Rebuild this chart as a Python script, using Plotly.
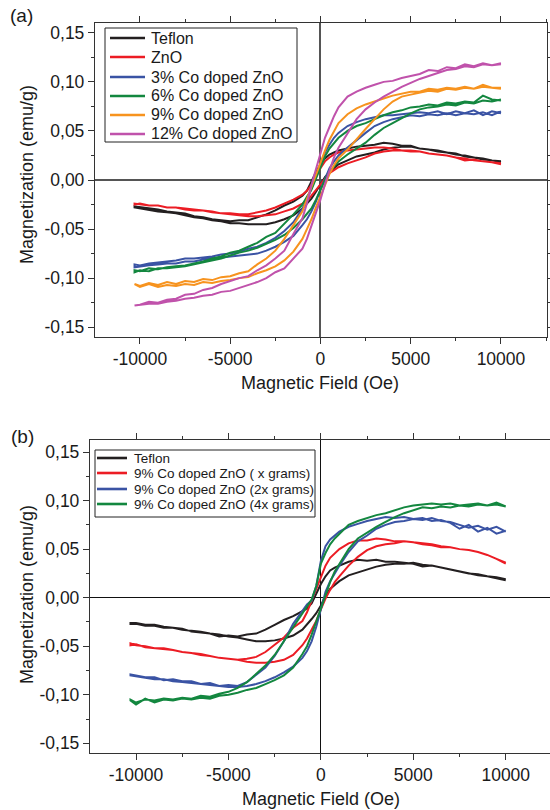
import plotly.graph_objects as go

# ---------------- data ----------------
# field grid: descending branch (+H -> -H) and ascending branch (-H -> +H)
H_DOWN = [10000, 9500, 9000, 8500, 8000, 7500, 7000, 6500, 6000, 5500, 5000, 4500, 4000, 3500, 3000, 2500, 2000, 1500,
          1000, 750, 500, 250, 0, -250, -500, -750, -1000,
          -1500, -2000, -2500, -3000, -3500, -4000, -4500, -5000, -5500, -6000, -6500, -7000, -7500, -8000, -8500, -9000, -9500, -10000,
          -10300]
H_UP = [-10300,
        -10000, -9500, -9000, -8500, -8000, -7500, -7000, -6500, -6000, -5500, -5000, -4500, -4000, -3500, -3000, -2500, -2000, -1500,
        -1000, -750, -500, -250, 0, 250, 500, 750, 1000,
        1500, 2000, 2500, 3000, 3500, 4000, 4500, 5000, 5500, 6000, 6500, 7000, 7500, 8000, 8500, 9000, 9500, 10000]

# ---- panel (a) ----
A_NAMES = ["Teflon", "ZnO", "3% Co doped ZnO", "6% Co doped ZnO", "9% Co doped ZnO", "12% Co doped ZnO"]

teflon_a_down = [0.019,0.020,0.022,0.023,0.024,0.027,0.028,0.029,0.031,0.032,0.035,0.035,0.037,0.038,0.036,0.035,0.034,0.032,
                 0.030,0.028,0.026,0.022,0.016,0.008,-0.002,-0.011,-0.016,
                 -0.022,-0.026,-0.031,-0.035,-0.038,-0.041,-0.041,-0.042,-0.041,-0.040,-0.038,-0.037,-0.034,-0.033,-0.032,-0.030,-0.029,-0.028,
                 -0.027]
teflon_a_up = [-0.028,
               -0.029,-0.030,-0.032,-0.033,-0.034,-0.036,-0.038,-0.039,-0.041,-0.042,-0.044,-0.044,-0.045,-0.045,-0.045,-0.043,-0.040,-0.036,
               -0.029,-0.024,-0.019,-0.012,-0.005,0.003,0.008,0.012,0.016,
               0.020,0.024,0.026,0.028,0.031,0.033,0.034,0.034,0.032,0.031,0.030,0.028,0.026,0.025,0.023,0.021,0.020,0.018]

zno_down = [0.017,0.018,0.019,0.021,0.020,0.023,0.025,0.026,0.027,0.029,0.030,0.030,0.032,0.033,0.033,0.032,0.031,0.030,
            0.028,0.026,0.023,0.019,0.012,0.004,-0.005,-0.011,-0.015,
            -0.020,-0.024,-0.028,-0.031,-0.033,-0.035,-0.035,-0.034,-0.034,-0.032,-0.031,-0.030,-0.029,-0.028,-0.028,-0.026,-0.026,-0.025,
            -0.024]
zno_up = [-0.025,
          -0.024,-0.026,-0.026,-0.028,-0.028,-0.030,-0.031,-0.031,-0.033,-0.034,-0.035,-0.036,-0.037,-0.037,-0.036,-0.035,-0.032,-0.029,
          -0.024,-0.021,-0.016,-0.010,-0.004,0.002,0.007,0.010,0.013,
          0.017,0.020,0.023,0.027,0.029,0.030,0.030,0.029,0.029,0.027,0.026,0.025,0.023,0.022,0.020,0.019,0.018,0.016]

co3_down = [0.068,0.070,0.066,0.071,0.068,0.070,0.067,0.070,0.068,0.069,0.068,0.067,0.066,0.066,0.064,0.062,0.059,0.055,
            0.048,0.043,0.036,0.028,0.016,0.004,-0.010,-0.021,-0.029,
            -0.043,-0.052,-0.059,-0.064,-0.068,-0.070,-0.073,-0.075,-0.076,-0.078,-0.079,-0.080,-0.080,-0.082,-0.083,-0.084,-0.085,-0.087,
            -0.086]
co3_up = [-0.089,
          -0.088,-0.087,-0.086,-0.085,-0.085,-0.083,-0.083,-0.081,-0.080,-0.079,-0.078,-0.077,-0.076,-0.075,-0.072,-0.068,-0.063,-0.057,
          -0.046,-0.040,-0.032,-0.022,-0.010,0.002,0.012,0.019,0.025,
          0.033,0.041,0.048,0.055,0.059,0.062,0.064,0.066,0.065,0.067,0.066,0.068,0.066,0.068,0.067,0.069,0.066,0.070]

co6_down = [0.081,0.082,0.086,0.079,0.080,0.078,0.079,0.076,0.077,0.075,0.074,0.071,0.069,0.066,0.062,0.058,0.055,0.050,
            0.043,0.038,0.032,0.024,0.013,0.003,-0.010,-0.017,-0.025,
            -0.035,-0.045,-0.054,-0.058,-0.064,-0.068,-0.072,-0.074,-0.078,-0.080,-0.083,-0.085,-0.087,-0.088,-0.089,-0.091,-0.090,-0.093,
            -0.092]
co6_up = [-0.094,
          -0.092,-0.093,-0.090,-0.090,-0.089,-0.088,-0.086,-0.084,-0.082,-0.080,-0.077,-0.074,-0.072,-0.069,-0.065,-0.061,-0.056,-0.049,
          -0.040,-0.034,-0.029,-0.020,-0.010,0.000,0.008,0.014,0.019,
          0.026,0.032,0.038,0.046,0.053,0.058,0.063,0.068,0.072,0.074,0.075,0.077,0.076,0.079,0.078,0.081,0.080,0.082]

co9_down = [0.093,0.094,0.097,0.093,0.095,0.093,0.094,0.092,0.093,0.090,0.090,0.088,0.086,0.083,0.080,0.077,0.073,0.067,
            0.058,0.050,0.041,0.030,0.018,0.005,-0.008,-0.020,-0.032,
            -0.046,-0.060,-0.072,-0.080,-0.086,-0.093,-0.095,-0.098,-0.099,-0.102,-0.101,-0.104,-0.103,-0.106,-0.104,-0.107,-0.105,-0.108,
            -0.106]
co9_up = [-0.106,
          -0.109,-0.106,-0.109,-0.107,-0.108,-0.106,-0.107,-0.104,-0.105,-0.103,-0.102,-0.100,-0.099,-0.095,-0.092,-0.088,-0.082,-0.073,
          -0.060,-0.050,-0.040,-0.028,-0.016,-0.004,0.006,0.015,0.022,
          0.031,0.042,0.052,0.062,0.072,0.080,0.085,0.087,0.089,0.091,0.090,0.093,0.092,0.094,0.093,0.095,0.094,0.094]

co12_down = [0.118,0.117,0.119,0.116,0.118,0.114,0.115,0.111,0.112,0.108,0.106,0.104,0.101,0.100,0.097,0.094,0.090,0.085,
             0.074,0.065,0.054,0.043,0.027,0.012,-0.005,-0.024,-0.039,
             -0.055,-0.072,-0.080,-0.087,-0.092,-0.098,-0.100,-0.103,-0.106,-0.110,-0.112,-0.116,-0.117,-0.121,-0.122,-0.125,-0.124,-0.127,
             -0.128]
co12_up = [-0.128,
           -0.127,-0.126,-0.126,-0.124,-0.123,-0.121,-0.120,-0.118,-0.117,-0.114,-0.113,-0.110,-0.107,-0.104,-0.100,-0.094,-0.090,-0.080,
           -0.070,-0.060,-0.047,-0.033,-0.020,-0.004,0.010,0.023,0.033,
           0.047,0.062,0.072,0.079,0.085,0.090,0.095,0.099,0.103,0.106,0.109,0.112,0.113,0.116,0.115,0.118,0.117,0.119]

# ---- panel (b) ----
B_NAMES = ["Teflon", "9% Co doped ZnO ( x grams)", "9% Co doped ZnO (2x grams)", "9% Co doped ZnO (4x grams)"]

teflon_b_down = [0.019,0.021,0.022,0.024,0.025,0.027,0.029,0.031,0.033,0.032,0.035,0.036,0.037,0.037,0.039,0.038,0.039,0.037,
                 0.033,0.031,0.028,0.022,0.014,0.004,-0.006,-0.011,-0.014,
                 -0.019,-0.023,-0.028,-0.033,-0.037,-0.038,-0.040,-0.039,-0.040,-0.037,-0.036,-0.035,-0.032,-0.031,-0.030,-0.028,-0.028,-0.026,
                 -0.026]
teflon_b_up = [-0.027,
               -0.027,-0.029,-0.029,-0.031,-0.031,-0.033,-0.034,-0.035,-0.037,-0.038,-0.040,-0.041,-0.043,-0.045,-0.045,-0.044,-0.042,-0.039,
               -0.033,-0.028,-0.022,-0.016,-0.008,0.002,0.009,0.013,0.017,
               0.023,0.026,0.029,0.032,0.034,0.035,0.035,0.036,0.034,0.033,0.031,0.029,0.027,0.025,0.023,0.022,0.020,0.018]

x1_down = [0.035,0.040,0.044,0.047,0.049,0.050,0.052,0.052,0.054,0.055,0.057,0.058,0.058,0.060,0.061,0.059,0.059,0.056,
           0.050,0.046,0.041,0.033,0.021,0.008,-0.004,-0.015,-0.024,
           -0.031,-0.041,-0.049,-0.056,-0.061,-0.063,-0.064,-0.063,-0.062,-0.060,-0.058,-0.057,-0.056,-0.054,-0.052,-0.052,-0.050,-0.049,
           -0.047]
x1_up = [-0.049,
         -0.048,-0.051,-0.052,-0.053,-0.054,-0.056,-0.057,-0.059,-0.060,-0.062,-0.063,-0.064,-0.066,-0.067,-0.067,-0.066,-0.064,-0.059,
         -0.049,-0.042,-0.033,-0.024,-0.012,-0.001,0.008,0.016,0.022,
         0.033,0.042,0.049,0.053,0.055,0.056,0.058,0.057,0.056,0.055,0.053,0.052,0.050,0.049,0.047,0.044,0.040,0.036]

x2_down = [0.069,0.066,0.072,0.068,0.075,0.071,0.077,0.080,0.079,0.082,0.081,0.083,0.082,0.083,0.081,0.079,0.076,0.073,
           0.068,0.064,0.060,0.053,0.038,0.012,-0.003,-0.007,-0.014,
           -0.027,-0.045,-0.060,-0.072,-0.080,-0.087,-0.091,-0.090,-0.091,-0.088,-0.089,-0.086,-0.086,-0.084,-0.085,-0.082,-0.082,-0.080,
           -0.079]
x2_up = [-0.080,
         -0.081,-0.082,-0.084,-0.084,-0.086,-0.087,-0.088,-0.089,-0.090,-0.091,-0.092,-0.092,-0.091,-0.089,-0.086,-0.082,-0.077,-0.071,
         -0.062,-0.055,-0.045,-0.030,-0.012,0.006,0.017,0.025,0.033,
         0.047,0.058,0.064,0.071,0.075,0.078,0.079,0.081,0.080,0.082,0.079,0.078,0.075,0.072,0.074,0.070,0.073,0.068]

x4_down = [0.094,0.096,0.095,0.097,0.096,0.095,0.097,0.096,0.097,0.096,0.095,0.093,0.090,0.087,0.085,0.082,0.079,0.075,
           0.066,0.061,0.055,0.046,0.035,0.012,-0.002,-0.009,-0.016,
           -0.030,-0.045,-0.059,-0.070,-0.079,-0.087,-0.093,-0.097,-0.099,-0.102,-0.101,-0.104,-0.103,-0.105,-0.104,-0.106,-0.105,-0.108,
           -0.105]
x4_up = [-0.106,
         -0.110,-0.104,-0.108,-0.105,-0.106,-0.104,-0.105,-0.103,-0.104,-0.101,-0.100,-0.098,-0.095,-0.093,-0.089,-0.085,-0.080,-0.072,
         -0.058,-0.050,-0.038,-0.024,-0.010,0.002,0.016,0.027,0.035,
         0.050,0.061,0.067,0.073,0.078,0.083,0.087,0.090,0.093,0.092,0.094,0.093,0.095,0.094,0.096,0.095,0.098,0.094]

# ticks
X_TICK_VALS = [-10000, -5000, 0, 5000, 10000]
X_TICK_TEXT = ["-10000", "-5000", "0", "5000", "10000"]
X_MINOR_VALS = [-12500, -7500, -2500, 2500, 7500, 12500]
Y_TICK_VALS = [-0.15, -0.10, -0.05, 0.0, 0.05, 0.10, 0.15]
Y_TICK_TEXT = ["-0,15", "-0,10", "-0,05", "0,00", "0,05", "0,10", "0,15"]
Y_MINOR_VALS = [-0.125, -0.075, -0.025, 0.025, 0.075, 0.125]

# ---------------- styling ----------------
FONT = "Liberation Sans, Arial, Helvetica, sans-serif"
TXT = "#1a1a1a"
COL_BLACK = "#231f20"
COL_RED = "#ec1c24"
COL_BLUE = "#3a53a4"
COL_GREEN = "#13873f"
COL_ORANGE = "#f7931e"
COL_MAGENTA = "#c052ab"
LW = 2

W, H = 550, 810

fig = go.Figure()

def add_loop(name, color, down, up, xa, ya):
    assert len(down) == len(H_DOWN) and len(up) == len(H_UP), name
    fig.add_trace(go.Scatter(
        x=H_DOWN + H_UP, y=down + up, mode="lines", name=name,
        line=dict(color=color, width=LW), xaxis=xa, yaxis=ya,
        showlegend=False, hoverinfo="skip"))

a_series = [(teflon_a_down, teflon_a_up, COL_BLACK), (zno_down, zno_up, COL_RED),
            (co3_down, co3_up, COL_BLUE), (co6_down, co6_up, COL_GREEN),
            (co9_down, co9_up, COL_ORANGE), (co12_down, co12_up, COL_MAGENTA)]
for nm, (d, u, c) in zip(A_NAMES, a_series):
    add_loop(nm, c, d, u, "x", "y")

b_series = [(teflon_b_down, teflon_b_up, COL_BLACK), (x1_down, x1_up, COL_RED),
            (x2_down, x2_up, COL_BLUE), (x4_down, x4_up, COL_GREEN)]
for nm, (d, u, c) in zip(B_NAMES, b_series):
    add_loop(nm, c, d, u, "x2", "y2")

def px_x(p):
    return p / W

def px_y(p):
    return 1 - p / H

tickfont = dict(family=FONT, size=17.5, color=TXT)

def xaxis_cfg(domain, rng, zc, zw, anchor):
    return dict(domain=domain, range=rng, anchor=anchor, tickmode="array", tickvals=X_TICK_VALS, ticktext=X_TICK_TEXT,
                ticks="outside", ticklen=6, tickwidth=1.2, tickcolor="#333",
                minor=dict(tickvals=X_MINOR_VALS, ticks="outside", ticklen=3, tickwidth=1.2, tickcolor="#333"),
                showline=True, linecolor="#333", linewidth=1.3, mirror="ticks",
                showgrid=False, zeroline=True, zerolinecolor=zc, zerolinewidth=zw,
                tickfont=tickfont, automargin=False, fixedrange=True)

def yaxis_cfg(domain, rng, anchor, zc, zw, mirror):
    return dict(domain=domain, range=rng, anchor=anchor, tickmode="array", tickvals=Y_TICK_VALS, ticktext=Y_TICK_TEXT,
                ticks="outside", ticklen=6, tickwidth=1.2, tickcolor="#333",
                minor=dict(tickvals=Y_MINOR_VALS, ticks="outside", ticklen=3, tickwidth=1.2, tickcolor="#333"),
                showline=True, linecolor="#333", linewidth=1.3, mirror=mirror,
                showgrid=False, zeroline=True, zerolinecolor=zc, zerolinewidth=zw,
                tickfont=tickfont, automargin=False, fixedrange=True)

ann_font = dict(family=FONT, size=18, color=TXT)
annotations = [
    dict(text="(a)", x=px_x(8), y=px_y(16), xref="paper", yref="paper", xanchor="left", yanchor="middle",
         showarrow=False, font=dict(family=FONT, size=19, color=TXT)),
    dict(text="(b)", x=px_x(9), y=px_y(436), xref="paper", yref="paper", xanchor="left", yanchor="middle",
         showarrow=False, font=dict(family=FONT, size=19, color=TXT)),
    dict(text="Magnetic Field (Oe)", x=px_x(320), y=px_y(383), xref="paper", yref="paper",
         xanchor="center", yanchor="middle", showarrow=False, font=ann_font),
    dict(text="Magnetic Field (Oe)", x=px_x(321), y=px_y(799), xref="paper", yref="paper",
         xanchor="center", yanchor="middle", showarrow=False, font=ann_font),
    dict(text="Magnetization (emu/g)", x=px_x(27), y=px_y(175), xref="paper", yref="paper",
         xanchor="center", yanchor="middle", textangle=-90, showarrow=False, font=ann_font),
    dict(text="Magnetization (emu/g)", x=px_x(27), y=px_y(595), xref="paper", yref="paper",
         xanchor="center", yanchor="middle", textangle=-90, showarrow=False, font=ann_font),
]

# ---- legends (boxed, drawn as shapes + text) ----
shapes = []

def make_legend(names, colors, box, row_y, line_x0, line_x1, text_x, size):
    x0, y0, x1, y1 = box
    shapes.append(dict(type="rect", xref="paper", yref="paper",
                       x0=px_x(x0), x1=px_x(x1), y0=px_y(y1), y1=px_y(y0),
                       line=dict(color="#222", width=1), fillcolor="white", layer="above"))
    for nm, c, yy in zip(names, colors, row_y):
        shapes.append(dict(type="line", xref="paper", yref="paper",
                           x0=px_x(line_x0), x1=px_x(line_x1), y0=px_y(yy), y1=px_y(yy),
                           line=dict(color=c, width=2.6), layer="above"))
        annotations.append(dict(text=nm, x=px_x(text_x), y=px_y(yy), xref="paper", yref="paper",
                                xanchor="left", yanchor="middle", showarrow=False,
                                font=dict(family=FONT, size=size, color=TXT)))

make_legend(A_NAMES, [s[2] for s in a_series], (105, 28, 297, 142),
            [38, 57, 77, 96, 115, 134], 110, 145, 149, 16)
make_legend(B_NAMES, [s[2] for s in b_series], (95, 450, 315, 517),
            [458, 473, 489, 504], 97, 127, 132, 13.5)

fig.update_layout(
    width=W, height=H, margin=dict(l=0, r=0, t=0, b=0),
    paper_bgcolor="white", plot_bgcolor="white",
    font=dict(family=FONT, color=TXT),
    xaxis=xaxis_cfg([px_x(95), px_x(547)], [-12490, 12550], "#555", 1.6, "y"),
    yaxis=yaxis_cfg([px_y(337), px_y(23)], [-0.160, 0.160], "x", "#555", 1.6, "ticks"),
    xaxis2=xaxis_cfg([px_x(90), 1.0], [-12490, 12394], "#111", 1.1, "y2"),
    yaxis2=yaxis_cfg([px_y(753), px_y(440)], [-0.160, 0.1624], "x2", "#111", 1.1, False),
    annotations=annotations,
    shapes=shapes,
    showlegend=False,
)

fig.write_html("out.html", include_plotlyjs=True, config={"displayModeBar": False},
               post_script="document.body.style.margin='0';document.body.style.overflow='hidden';")
